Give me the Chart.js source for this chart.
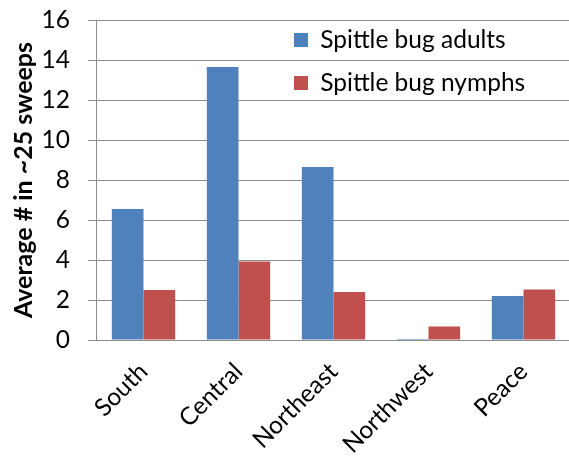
<!DOCTYPE html>
<html>
<head>
<meta charset="utf-8">
<script src="https://cdn.jsdelivr.net/npm/chart.js@4/dist/chart.umd.min.js"></script>
<style>
  html, body { margin: 0; padding: 0; background: #fff; overflow: hidden; }
  #wrap { width: 571px; height: 458px; }
</style>
</head>
<body>
<div id="wrap"><canvas id="c" width="571" height="458"></canvas></div>
<script>
// Regions sampled
const regions = ['South', 'Central', 'Northeast', 'Northwest', 'Peace'];
// Average counts per ~25 sweeps
const adults = [6.55, 13.65, 8.65, 0.05, 2.2];
const nymphs = [2.5, 3.92, 2.4, 0.67, 2.52];
const seriesNames = ['Spittle bug adults', 'Spittle bug nymphs'];
const yTicks = { min: 0, max: 16, step: 2 };

const FONT = 'Lato, "Open Sans", sans-serif';
const FS = 24.5;
const GRID = '#8c8c8c';
const LEG_PAD = 18.5;

// Places the legend inside the plot, upper right
const legendPlacer = {
  id: 'legendPlacer',
  beforeDraw(chart) {
    const lg = chart.legend;
    if (!lg) return;
    lg.left = 294 - LEG_PAD;
    lg.top = 40 - LEG_PAD - FS / 2;
  }
};

new Chart(document.getElementById('c'), {
  type: 'bar',
  data: {
    labels: regions,
    datasets: [
      { label: seriesNames[0], data: adults, backgroundColor: '#4F81BD' },
      { label: seriesNames[1], data: nymphs, backgroundColor: '#C0504D' }
    ]
  },
  options: {
    responsive: false,
    animation: false,
    events: [],
    layout: { padding: { top: 20, left: 0, right: 0, bottom: 0 } },
    datasets: { bar: { categoryPercentage: 2 / 3, barPercentage: 1 } },
    plugins: {
      tooltip: { enabled: false },
      legend: {
        position: 'chartArea',
        align: 'start',
        labels: {
          boxWidth: 14,
          boxHeight: 14,
          padding: LEG_PAD,
          color: '#000',
          font: { family: FONT, size: FS }
        }
      }
    },
    scales: {
      x: {
        grid: { display: false, drawTicks: false },
        border: { display: true, color: GRID, width: 1 },
        ticks: {
          color: '#000',
          font: { family: FONT, size: FS },
          minRotation: 45,
          maxRotation: 45,
          padding: 17
        },
        afterFit(s) { s.height = 118; }
      },
      y: {
        min: yTicks.min,
        max: yTicks.max,
        grid: { color: GRID, lineWidth: 1, tickLength: 8, drawTicks: true },
        border: { display: true, color: GRID, width: 1 },
        ticks: {
          stepSize: yTicks.step,
          color: '#000',
          padding: 18,
          font: { family: FONT, size: FS }
        },
        title: {
          display: true,
          text: 'Average # in ~25 sweeps',
          color: '#000',
          font: { family: FONT, size: 25, weight: 'bold' },
          padding: { top: 9, bottom: 0 }
        },
        afterFit(s) {
          s.width = 96;
          s.paddingTop = 10;
          s.paddingBottom = 10;
        }
      }
    }
  },
  plugins: [legendPlacer]
});
</script>
</body>
</html>
